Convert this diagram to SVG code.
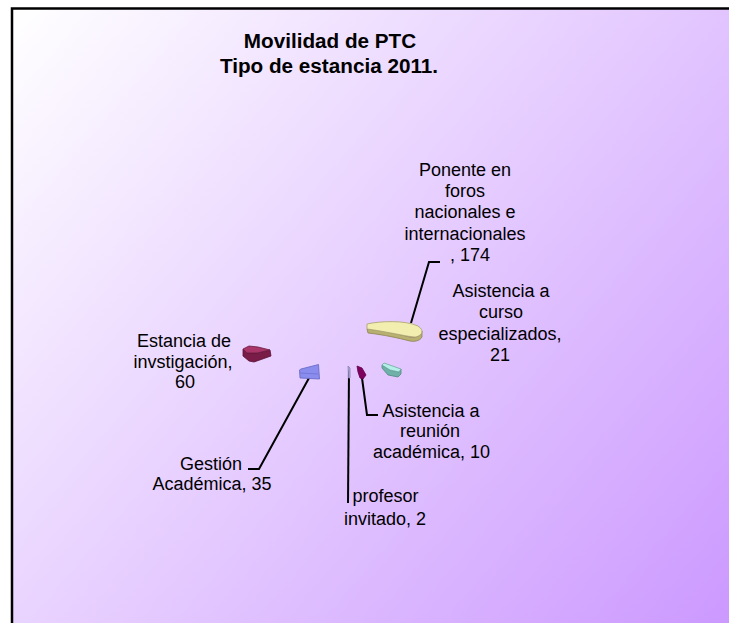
<svg xmlns="http://www.w3.org/2000/svg" width="729" height="623" viewBox="0 0 729 623">
<defs>
<linearGradient id="bg" gradientUnits="userSpaceOnUse" x1="12" y1="8" x2="729" y2="623">
<stop offset="0" stop-color="#ffffff"/>
<stop offset="1" stop-color="#cc99ff"/>
</linearGradient>
</defs>
<style>
.t{font-family:"Liberation Sans",Arial,sans-serif;font-size:18px;fill:#000;text-anchor:middle}
.title{font-family:"Liberation Sans",Arial,sans-serif;font-size:20.7px;font-weight:bold;fill:#000;text-anchor:middle}
.lead{fill:none;stroke:#000;stroke-width:2}
.edge{stroke-width:0.8;stroke-linejoin:round}
</style>
<rect x="0" y="0" width="729" height="623" fill="#ffffff"/>
<rect x="12" y="8.5" width="740" height="640" fill="url(#bg)" stroke="#000" stroke-width="2.5"/>
<g id="title">
<text class="title" x="330" y="48">Movilidad de PTC</text>
<text class="title" x="329" y="72.5">Tipo de estancia 2011.</text>
</g>
<g id="connectors">
<polyline class="lead" points="411,323 429,262 440,262"/>
<polyline class="lead" points="309,378 259,469 248,469"/>
<polyline class="lead" points="362,378 367,415 378,415"/>
<polyline class="lead" points="349,370 348,503"/>
</g>
<g id="slice-ponente">
<path class="edge" d="M367,329 C385,331 398,334 410,337 C415,338 421,336 422,331 L422,337 C420,341 414,342 410,341 C398,338 385,335 368,333 Z" fill="#b8b070" stroke="#8a8450"/>
<path class="edge" d="M367,324 C380,321 405,320 418,326 C424,330 423,335 416,337 C408,337 395,333 367,329 Z" fill="#f2eeb0" stroke="#a8a070"/>
</g>
<g id="slice-curso">
<path class="edge" d="M382,365 L390,370 L399,372 L401,369 L401,374 L398,377 L388,375 L382,368 Z" fill="#6fb0a8" stroke="#4f8880"/>
<path class="edge" d="M382,365 L384,363 L401,369 L399,372 L390,370 Z" fill="#b4f0e8" stroke="#6fa8a0"/>
</g>
<g id="slice-reunion">
<path class="edge" d="M357,366 L362,368 L366,375 L363,379 L360,378 L358,372 Z" fill="#800060" stroke="#600048"/>
</g>
<g id="slice-profesor">
<path class="edge" d="M348,366 L350,368 L350,378 L348.5,378 Z" fill="#b0a8d8" stroke="#8880b0"/>
</g>
<g id="slice-estancia">
<path class="edge" d="M243,349 L247,353 L257,353 L270,350 L271,356 L254,362 L249,361 L243,356 Z" fill="#7a1c48" stroke="#5a1034"/>
<path class="edge" d="M243,349 L249,346 L258,347 L270,350 L257,353 L247,353 Z" fill="#a83468" stroke="#6a1a40"/>
</g>
<g id="slice-gestion">
<path class="edge" d="M299.5,370 L301,369 L318.5,364.5 L319.5,379 L300,378 Z" fill="#8a8cee" stroke="#6266c0"/>
<path d="M300,373 L318,374" stroke="#6c70d0" stroke-width="0.7" fill="none"/>
</g>
<g id="labels">
<text class="t" x="465" y="176">Ponente en</text>
<text class="t" x="465" y="197">foros</text>
<text class="t" x="465" y="218">nacionales e</text>
<text class="t" x="465" y="240">internacionales</text>
<text class="t" x="470" y="261">, 174</text>
<text class="t" x="501" y="297">Asistencia a</text>
<text class="t" x="501" y="318">curso</text>
<text class="t" x="500" y="340">especializados,</text>
<text class="t" x="500" y="361">21</text>
<text class="t" x="184" y="347">Estancia de</text>
<text class="t" x="183" y="368">invstigación,</text>
<text class="t" x="185" y="388">60</text>
<text class="t" x="211" y="470">Gestión</text>
<text class="t" x="212" y="490">Académica, 35</text>
<text class="t" x="431" y="417">Asistencia a</text>
<text class="t" x="430" y="437">reunión</text>
<text class="t" x="431.5" y="458">académica, 10</text>
<text class="t" x="385.5" y="502">profesor</text>
<text class="t" x="385" y="525">invitado, 2</text>
</g>
</svg>
